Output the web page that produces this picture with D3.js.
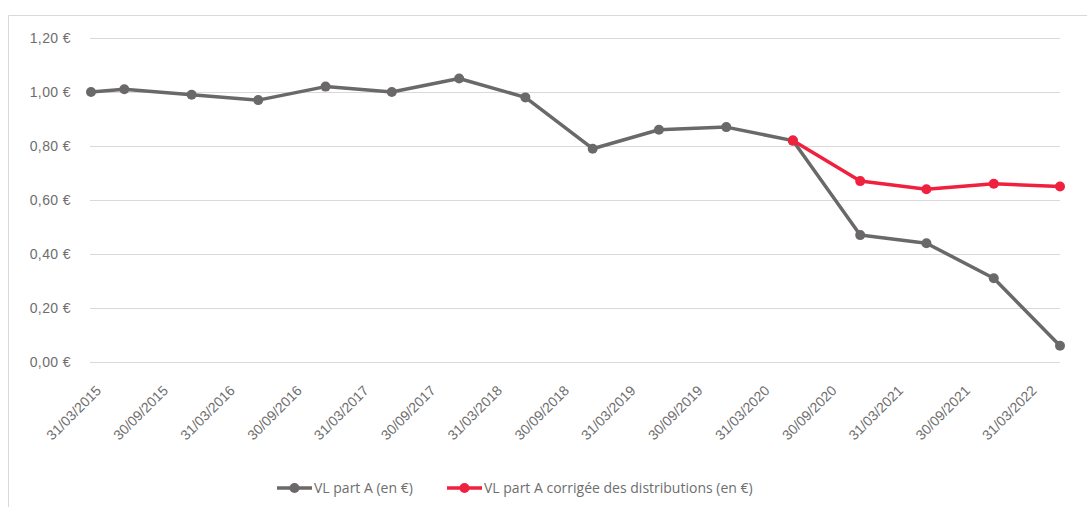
<!DOCTYPE html>
<html>
<head>
<meta charset="utf-8">
<script src="https://cdn.jsdelivr.net/npm/d3@7"></script>
<style>
  body { margin: 0; background: #fff; }
  svg { font-family: "Open Sans", sans-serif; }
</style>
</head>
<body>
<svg width="1087" height="507"></svg>
<script>
// dates of each valuation (dd/mm/yyyy)
var dates = ['31/03/2015', '30/06/2015', '31/12/2015', '30/06/2016', '31/12/2016', '30/06/2017',
    '31/12/2017', '30/06/2018', '31/12/2018', '30/06/2019', '31/12/2019', '30/06/2020',
    '31/12/2020', '30/06/2021', '31/12/2021', '30/06/2022'];
var vlPartA = [1.00, 1.01, 0.99, 0.97, 1.02, 1.00, 1.05, 0.98, 0.79, 0.86, 0.87, 0.82,
    0.47, 0.44, 0.31, 0.06];
// corrected series only starts on 30/06/2020
var vlCorrigee = [null, null, null, null, null, null, null, null, null, null, null, 0.82,
    0.67, 0.64, 0.66, 0.65];
var tickLabels = ['31/03/2015', '30/09/2015', '31/03/2016', '30/09/2016', '31/03/2017', '30/09/2017',
    '31/03/2018', '30/09/2018', '31/03/2019', '30/09/2019', '31/03/2020', '30/09/2020',
    '31/03/2021', '30/09/2021', '31/03/2022'];
var yTicks = [0, 0.2, 0.4, 0.6, 0.8, 1.0, 1.2];
var seriesNames = ['VL part A (en €)', 'VL part A corrigée des distributions (en €)'];
var colors = ['#6b6869', '#f0203f'];
var textColor = '#6e6e6e';

var parse = d3.utcParse('%d/%m/%Y');
var svg = d3.select('svg');

// outer frame (left and top edges visible)
svg.append('path')
    .attr('d', 'M8.5,507 V15.5 H1087')
    .attr('fill', 'none')
    .attr('stroke', '#d9d9d9');

var x = d3.scaleUtc()
    .domain([parse(dates[0]), parse(dates[dates.length - 1])])
    .range([91, 1060]);
var y = d3.scaleLinear()
    .domain([0, 1.2])
    .range([362, 38]);

var fmt = function (v) { return d3.format('.2f')(v).replace('.', ',') + ' €'; };

var yAxis = svg.append('g')
    .attr('transform', 'translate(90,0)')
    .call(d3.axisLeft(y)
        .tickValues(yTicks)
        .tickFormat(fmt)
        .tickSizeInner(-970)
        .tickSizeOuter(0)
        .tickPadding(19));
yAxis.select('.domain').remove();
yAxis.selectAll('line').attr('stroke', '#d9d9d9');
yAxis.selectAll('text')
    .attr('fill', textColor)
    .style('font-size', '14px')
    .style('letter-spacing', '0.4px');

var xAxis = svg.append('g')
    .attr('transform', 'translate(0,362)')
    .call(d3.axisBottom(x)
        .tickValues(tickLabels.map(parse))
        .tickFormat(d3.utcFormat('%d/%m/%Y'))
        .tickSize(0));
xAxis.select('.domain').remove();
xAxis.selectAll('text')
    .attr('fill', textColor)
    .style('font-size', '14px')
    .attr('text-anchor', 'end')
    .attr('y', 0)
    .attr('dy', '0.75em')
    .attr('transform', 'translate(3,22) rotate(-45)');

var line = d3.line()
    .defined(function (d) { return d.v != null; })
    .x(function (d) { return x(d.date); })
    .y(function (d) { return y(d.v); });

[vlPartA, vlCorrigee].forEach(function (vals, i) {
    var pts = vals.map(function (v, j) { return { date: parse(dates[j]), v: v }; });
    var g = svg.append('g');
    g.append('path')
        .datum(pts)
        .attr('fill', 'none')
        .attr('stroke', colors[i])
        .attr('stroke-width', 3.5)
        .attr('stroke-linejoin', 'round')
        .attr('d', line);
    g.selectAll('circle')
        .data(pts.filter(function (d) { return d.v != null; }))
        .enter()
        .append('circle')
        .attr('cx', function (d) { return x(d.date); })
        .attr('cy', function (d) { return y(d.v); })
        .attr('r', 5)
        .attr('fill', colors[i]);
});

// legend
var legendX = [277, 447];
var legend = svg.append('g')
    .selectAll('g')
    .data(seriesNames)
    .enter()
    .append('g')
    .attr('transform', function (d, i) { return 'translate(' + legendX[i] + ',488)'; });
legend.append('line')
    .attr('x1', 0).attr('x2', 35)
    .attr('stroke', function (d, i) { return colors[i]; })
    .attr('stroke-width', 3.5);
legend.append('circle')
    .attr('cx', 17.5)
    .attr('r', 5)
    .attr('fill', function (d, i) { return colors[i]; });
legend.append('text')
    .attr('x', 37)
    .attr('dy', '0.35em')
    .attr('fill', textColor)
    .style('font-size', '14px')
    .text(function (d) { return d; });
</script>
</body>
</html>
